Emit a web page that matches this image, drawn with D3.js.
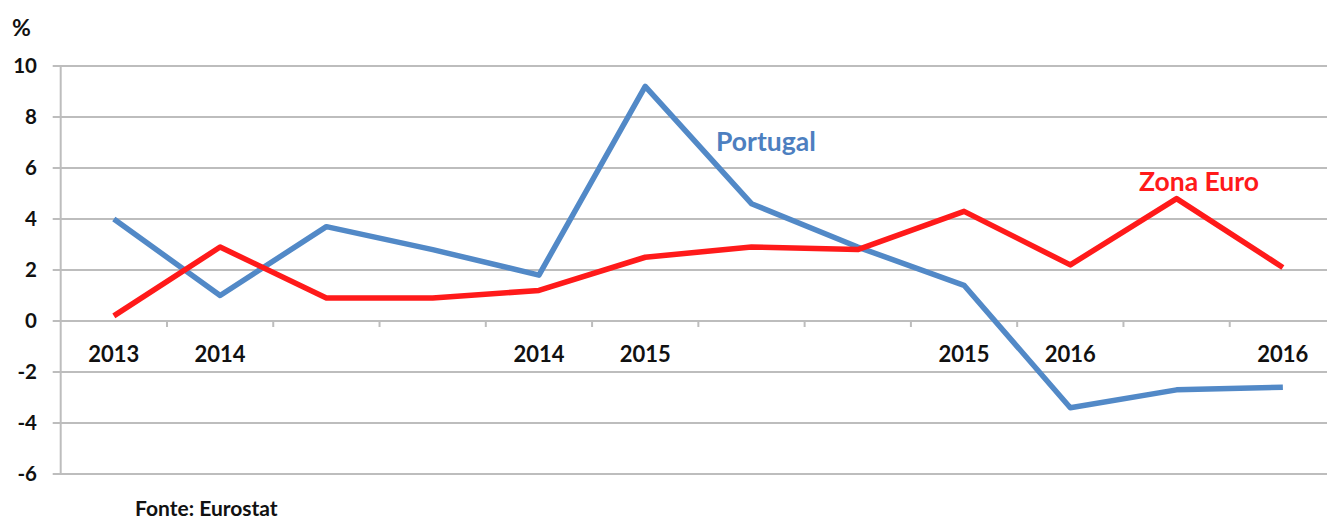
<!DOCTYPE html>
<html>
<head>
<meta charset="utf-8">
<script src="https://cdn.jsdelivr.net/npm/d3@7"></script>
<style>
  html, body { margin: 0; padding: 0; background: #fff; }
  svg { display: block; }
  text { font-family: Lato, "Open Sans", sans-serif; font-weight: bold; }
</style>
</head>
<body>
<svg id="chart" width="1327" height="521"></svg>
<script>
const categories = ["2013", "2014", "", "", "2014", "2015", "", "", "2015", "2016", "", "2016"];
const portugal  = [4.0, 1.0, 3.7, 2.8, 1.8, 9.2, 4.6, 2.9, 1.4, -3.4, -2.7, -2.6];
const zonaEuro  = [0.2, 2.9, 0.9, 0.9, 1.2, 2.5, 2.9, 2.8, 4.3, 2.2, 4.8, 2.1];
const yTicks    = [-6, -4, -2, 0, 2, 4, 6, 8, 10];

(function () {
const svg = d3.select("#chart");
const mLeft = 60.7, mRight = 1336, mTop = 66, mBottom = 474;

const idx = categories.map((d, i) => i);
const x = d3.scaleBand().domain(idx).range([mLeft, mRight]).padding(0);
const y = d3.scaleLinear().domain([-6, 10]).range([mBottom, mTop]);
const cx = i => x(i) + x.bandwidth() / 2;

// gridlines
svg.append("g").selectAll("line").data(yTicks).join("line")
  .attr("x1", mLeft - 8).attr("x2", 1327)
  .attr("y1", d => y(d)).attr("y2", d => y(d))
  .attr("stroke", "#bdbdbd").attr("stroke-width", 2);

// y axis line
svg.append("line")
  .attr("x1", mLeft).attr("x2", mLeft)
  .attr("y1", mTop).attr("y2", mBottom)
  .attr("stroke", "#bdbdbd").attr("stroke-width", 2);

// category ticks on zero line
svg.append("g").selectAll("line").data(idx.slice(1)).join("line")
  .attr("x1", d => x(d)).attr("x2", d => x(d))
  .attr("y1", y(0)).attr("y2", y(0) + 6)
  .attr("stroke", "#bdbdbd").attr("stroke-width", 2);

// y tick labels
svg.append("g").selectAll("text").data(yTicks).join("text")
  .attr("x", 37).attr("y", d => y(d))
  .attr("dy", "0.36em")
  .attr("text-anchor", "end")
  .attr("font-size", 20.5)
  .attr("fill", "#111")
  .text(d => d);

// % label
svg.append("text").attr("x", 12).attr("y", 36)
  .attr("font-size", 23).attr("fill", "#111").text("%");

// x labels
svg.append("g").selectAll("text").data(idx).join("text")
  .attr("x", d => cx(d)).attr("y", 362)
  .attr("text-anchor", "middle")
  .attr("font-size", 22)
  .attr("fill", "#111")
  .text(d => categories[d]);

const line = d3.line().x((d, i) => cx(i)).y(d => y(d));

svg.append("path").datum(portugal)
  .attr("d", line).attr("fill", "none")
  .attr("stroke", "#5289c7").attr("stroke-width", 5.5)
  .attr("stroke-linejoin", "round");

svg.append("path").datum(zonaEuro)
  .attr("d", line).attr("fill", "none")
  .attr("stroke", "#ff1a1a").attr("stroke-width", 5.5)
  .attr("stroke-linejoin", "round");

// series labels
svg.append("text").attr("x", 716).attr("y", 151)
  .attr("font-size", 26.5).attr("fill", "#4d7fc0").text("Portugal");
svg.append("text").attr("x", 1139).attr("y", 191)
  .attr("font-size", 26.5).attr("fill", "#ff1a1a").text("Zona Euro");

// source
svg.append("text").attr("x", 135).attr("y", 516)
  .attr("font-size", 21).attr("fill", "#111").text("Fonte: Eurostat");
})();
</script>
</body>
</html>
